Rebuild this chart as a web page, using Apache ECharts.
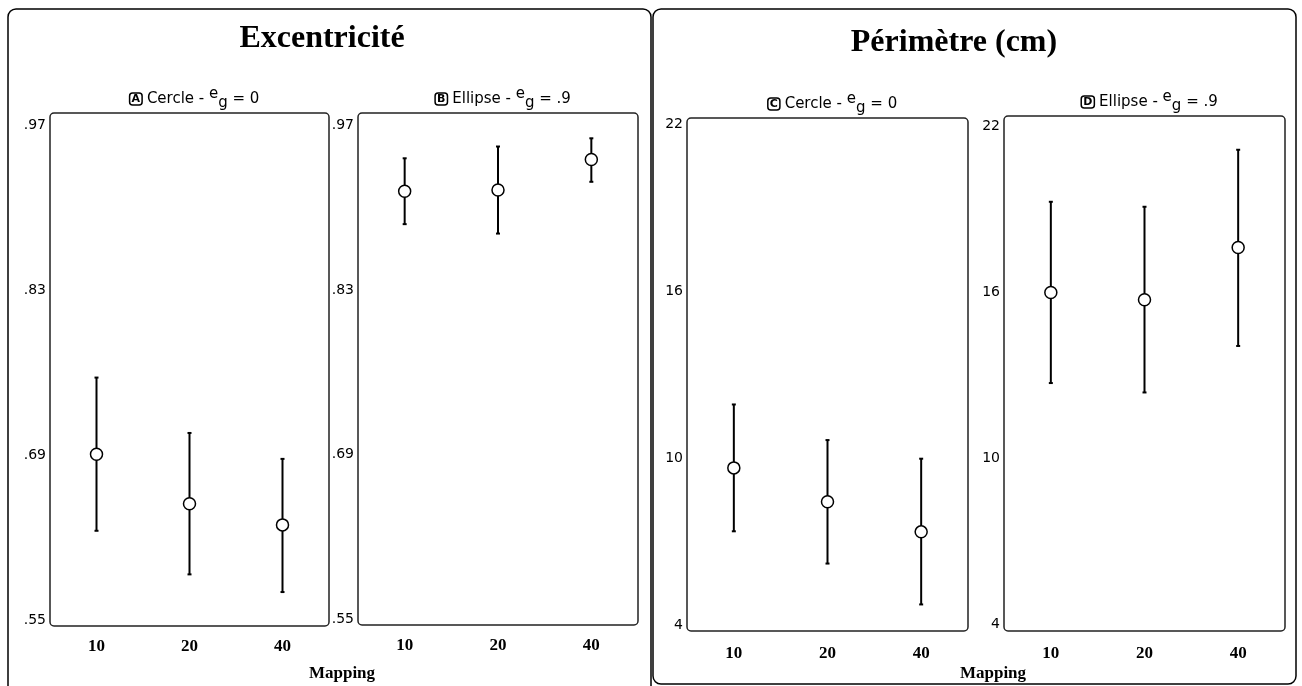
<!DOCTYPE html>
<html>
<head>
<meta charset="utf-8">
<script src="https://cdn.jsdelivr.net/npm/echarts@6/dist/echarts.min.js"></script>
<style>
    html, body { margin: 0; padding: 0; background: #fff; }
    #chart { width: 1302px; height: 686px; }
</style>
</head>
<body>
<div id="chart"></div>
<script>
// categories (mapping)
const mappings = ['10', '20', '40'];

// Excentricité
const eccTicks = [0.55, 0.69, 0.83, 0.97];
const eccCercleMean = [0.691, 0.649, 0.631];
const eccCercleLow = [0.626, 0.589, 0.574];
const eccCercleHigh = [0.756, 0.709, 0.687];
const eccEllipseMean = [0.914, 0.915, 0.941];
const eccEllipseLow = [0.886, 0.878, 0.922];
const eccEllipseHigh = [0.942, 0.952, 0.959];

// Périmètre (cm)
const perTicks = [4, 10, 16, 22];
const perCercleMean = [9.66, 8.44, 7.36];
const perCercleLow = [7.38, 6.22, 4.75];
const perCercleHigh = [11.94, 10.66, 9.99];
const perEllipseMean = [15.98, 15.72, 17.61];
const perEllipseLow = [12.71, 12.37, 14.05];
const perEllipseHigh = [19.26, 19.08, 21.14];

const serif = '"Liberation Serif", "DejaVu Serif", serif';
const sans = '"DejaVu Sans", sans-serif';

// grid boxes in px: left, top, width, height
const boxes = [
    { left: 50, top: 113, width: 279, height: 513 },
    { left: 358, top: 113, width: 280, height: 512 },
    { left: 687, top: 118, width: 281, height: 513 },
    { left: 1004, top: 116, width: 281, height: 515 }
];

const panels = [
    { letter: 'A', shape: 'Cercle', eg: '0', ticks: eccTicks, min: 0.5452, max: 0.9805, mean: eccCercleMean, low: eccCercleLow, high: eccCercleHigh, fmt: v => v.toFixed(2).replace(/^0/, '') },
    { letter: 'B', shape: 'Ellipse', eg: '.9', ticks: eccTicks, min: 0.5452, max: 0.9805, mean: eccEllipseMean, low: eccEllipseLow, high: eccEllipseHigh, fmt: v => v.toFixed(2).replace(/^0/, '') },
    { letter: 'C', shape: 'Cercle', eg: '0', ticks: perTicks, min: 3.795, max: 22.24, mean: perCercleMean, low: perCercleLow, high: perCercleHigh, fmt: v => String(v) },
    { letter: 'D', shape: 'Ellipse', eg: '.9', ticks: perTicks, min: 3.75, max: 22.36, mean: perEllipseMean, low: perEllipseLow, high: perEllipseHigh, fmt: v => String(v) }
];

const subRich = {
    b: { fontFamily: sans, fontSize: 11, fontWeight: 'bold', color: '#000', borderColor: '#000', borderWidth: 1.5, borderRadius: 3, padding: [1, 2, 0, 2] },
    t: { fontFamily: sans, fontSize: 15, fontWeight: 'normal', color: '#000', lineHeight: 24 },
    e: { fontFamily: sans, fontSize: 15, fontWeight: 'normal', color: '#000', lineHeight: 20, verticalAlign: 'top' },
    g: { fontFamily: sans, fontSize: 15, fontWeight: 'normal', color: '#000', lineHeight: 20, verticalAlign: 'bottom' }
};

const titles = [
    { text: 'Excentricité', left: 317, top: 18, textAlign: 'center', textStyle: { fontFamily: serif, fontSize: 32, fontWeight: 'bold', color: '#000' } },
    { text: 'Périmètre (cm)', left: 949, top: 22, textAlign: 'center', textStyle: { fontFamily: serif, fontSize: 32, fontWeight: 'bold', color: '#000' } },
    { text: 'Mapping', left: 337, top: 660, textAlign: 'center', textStyle: { fontFamily: serif, fontSize: 17, fontWeight: 'bold', color: '#000' } },
    { text: 'Mapping', left: 988, top: 660, textAlign: 'center', textStyle: { fontFamily: serif, fontSize: 17, fontWeight: 'bold', color: '#000' } }
];

const grids = [], xAxes = [], yAxes = [], series = [];
const graphics = [
    { type: 'rect', shape: { x: 8, y: 9, width: 643, height: 700, r: 8 }, style: { fill: 'none', stroke: '#000', lineWidth: 1.5 }, z: 0 },
    { type: 'rect', shape: { x: 653, y: 9, width: 643, height: 675, r: 8 }, style: { fill: 'none', stroke: '#000', lineWidth: 1.5 }, z: 0 }
];

panels.forEach((p, i) => {
    const b = boxes[i];
    grids.push({ left: b.left, top: b.top, width: b.width, height: b.height, containLabel: false });
    graphics.push({ type: 'rect', shape: { x: b.left, y: b.top, width: b.width, height: b.height, r: 4 }, style: { fill: 'none', stroke: '#222', lineWidth: 1.5 }, z: 5 });

    titles.push({
        text: '{b|' + p.letter + '}{t| ' + p.shape + ' - }{e|e}{g|g}{t| = ' + p.eg + '}',
        left: b.left + b.width / 2,
        top: b.top - 31,
        textAlign: 'center',
        textStyle: { fontWeight: 'normal', rich: subRich }
    });

    xAxes.push({
        type: 'category',
        gridIndex: i,
        data: mappings,
        boundaryGap: true,
        axisLine: { show: false },
        axisTick: { inside: true, alignWithLabel: true, length: 4, lineStyle: { color: '#000', width: 1.5 } },
        axisLabel: { fontFamily: serif, fontSize: 17, fontWeight: 'bold', color: '#000', margin: i < 2 ? 12 : 14 },
        splitLine: { show: false }
    });

    yAxes.push({
        type: 'value',
        gridIndex: i,
        min: p.min,
        max: p.max,
        axisLine: { show: false },
        axisTick: { inside: true, length: 4, customValues: p.ticks, lineStyle: { color: '#666', width: 1 } },
        axisLabel: { customValues: p.ticks, formatter: p.fmt, fontFamily: sans, fontSize: 14, color: '#000', margin: 4 },
        splitLine: { show: false }
    });

    series.push({
        type: 'custom',
        xAxisIndex: i,
        yAxisIndex: i,
        z: 3,
        data: mappings.map((m, k) => [k, p.low[k], p.high[k]]),
        encode: { x: 0, y: [1, 2] },
        renderItem: function (params, api) {
            const lo = api.coord([api.value(0), api.value(1)]);
            const hi = api.coord([api.value(0), api.value(2)]);
            const st = { stroke: '#000', lineWidth: 2 };
            return {
                type: 'group',
                children: [
                    { type: 'line', shape: { x1: lo[0], y1: lo[1], x2: hi[0], y2: hi[1] }, style: st },
                    { type: 'line', shape: { x1: lo[0] - 2, y1: lo[1], x2: lo[0] + 2, y2: lo[1] }, style: st },
                    { type: 'line', shape: { x1: hi[0] - 2, y1: hi[1], x2: hi[0] + 2, y2: hi[1] }, style: st }
                ]
            };
        }
    });

    series.push({
        type: 'scatter',
        xAxisIndex: i,
        yAxisIndex: i,
        z: 4,
        symbol: 'circle',
        symbolSize: 12,
        itemStyle: { color: '#fff', borderColor: '#000', borderWidth: 1.5, opacity: 1 },
        data: p.mean
    });
});

const chart = echarts.init(document.getElementById('chart'));
chart.setOption({
    animation: false,
    backgroundColor: '#fff',
    title: titles,
    grid: grids,
    xAxis: xAxes,
    yAxis: yAxes,
    graphic: graphics,
    series: series
});
</script>
</body>
</html>
